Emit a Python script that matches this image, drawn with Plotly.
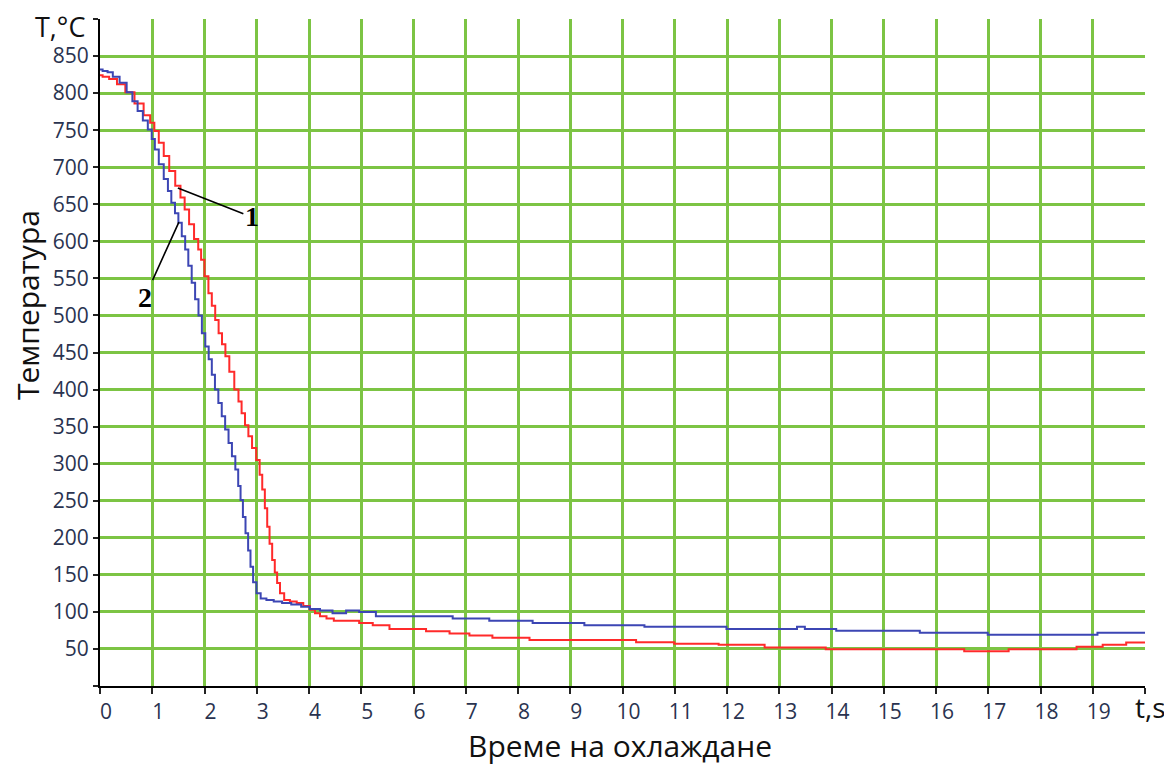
import plotly.graph_objects as go

# Curve 1 (red)
t_red = [0.00, 0.10, 0.25, 0.40, 0.57, 0.75, 0.92, 1.00, 1.08, 1.17, 1.27, 1.38, 1.50, 1.58, 1.66,
         1.75, 1.85, 1.91, 1.96, 2.04, 2.11, 2.17, 2.24, 2.30, 2.37, 2.43, 2.52, 2.62, 2.68, 2.74,
         2.81, 2.87, 2.95, 3.03, 3.08, 3.13, 3.18, 3.22, 3.27, 3.32, 3.37, 3.41, 3.48, 3.57, 3.70,
         3.83, 3.95, 4.08, 4.15, 4.27, 4.40, 4.55,
         4.95, 4.97, 5.21, 5.23, 5.53, 5.55, 6.23, 6.25, 6.68, 6.70, 7.06, 7.08, 7.50, 7.52,
         8.21, 8.23, 10.25, 10.27, 10.98, 11.00, 11.83, 11.85, 12.71, 12.73, 13.88, 13.90,
         16.53, 16.55, 17.38, 17.40, 18.68, 18.70, 19.18, 19.20, 19.63, 19.65, 20.00]
T_red = [824, 822, 819, 812, 801, 786, 770, 760, 749, 733, 715, 695, 675, 659, 643,
         623, 603, 589, 575, 553, 530, 513, 494, 476, 461, 445, 424, 400, 384, 368,
         352, 337, 321, 305, 285, 265, 240, 215, 192, 170, 153, 139, 125, 116, 114,
         112, 108, 103, 98, 94, 91, 88,
         88, 85, 85, 82, 82, 77, 77, 74, 74, 71, 71, 68, 68, 65,
         65, 62, 62, 59, 59, 57, 57, 55.5, 55.5, 52, 52, 49.5,
         49.5, 47, 47, 49.5, 49.5, 53, 53, 55.5, 55.5, 58.6, 58.6]

# Curve 2 (blue)
t_blue = [0.00, 0.10, 0.19, 0.30, 0.45, 0.57, 0.67, 0.77, 0.87, 0.96, 1.02, 1.08, 1.17, 1.27, 1.33,
          1.40, 1.47, 1.53, 1.60, 1.66, 1.72, 1.79, 1.85, 1.92, 1.98, 2.05, 2.11, 2.17, 2.23, 2.30,
          2.36, 2.43, 2.49, 2.56, 2.62, 2.67, 2.71, 2.76, 2.81, 2.86, 2.90, 2.96, 3.03, 3.12, 3.25,
          3.40, 3.57, 3.75, 3.95, 4.08, 4.34,
          4.44, 4.46, 4.70, 4.72, 4.95, 4.97, 5.27, 5.29, 6.74, 6.76, 7.44, 7.46, 8.27, 8.29,
          9.26, 9.28, 10.41, 10.43, 11.98, 12.00, 13.33, 13.35, 13.48, 13.50, 14.08, 14.10,
          15.68, 15.70, 16.98, 17.00, 19.08, 19.10, 20.00]
T_blue = [832, 830, 828, 822, 814, 801, 789, 776, 763, 751, 738, 724, 704, 684, 668,
          652, 638, 625, 607, 589, 567, 544, 522, 500, 476, 458, 441, 420, 400, 382,
          364, 346, 328, 310, 292, 270, 251, 228, 206, 183, 161, 140, 125, 118, 116,
          114, 112, 110, 107, 104, 102,
          102, 98, 98, 102, 102, 100, 100, 94, 94, 91, 91, 88, 88, 85,
          85, 82, 82, 80, 80, 77, 77, 80, 80, 77, 77, 74.5,
          74.5, 72, 72, 69, 69, 72, 72]

x_ticks = list(range(0, 20))
y_ticks = list(range(0, 901, 50))
y_ticktext = ["" if (v == 0 or v == 900) else str(v) for v in y_ticks]

GREEN = "#7cc444"
FONT = "Open Sans, Noto Sans, sans-serif"
TICKFONT = dict(family=FONT, size=21, color="#2a3350")

fig = go.Figure()
fig.add_trace(go.Scatter(x=t_red, y=T_red, mode="lines", line=dict(color="#ff2a2a", width=2, shape="hvh"),
                         showlegend=False, hoverinfo="skip"))
fig.add_trace(go.Scatter(x=t_blue, y=T_blue, mode="lines", line=dict(color="#3c46b4", width=2, shape="hvh"),
                         showlegend=False, hoverinfo="skip"))

fig.update_layout(
    width=1164, height=757,
    margin=dict(l=92, r=27, t=11, b=79),
    paper_bgcolor="white", plot_bgcolor="white",
    xaxis=dict(range=[0, 20], tickvals=x_ticks + [20], ticktext=[str(v) for v in x_ticks] + [""],
               showgrid=True, gridcolor=GREEN, gridwidth=3,
               showline=True, linecolor="black", linewidth=2,
               ticks="outside", ticklen=6, tickwidth=2, tickcolor="#222",
               tickfont=TICKFONT, ticklabelshift=6, zeroline=False),
    yaxis=dict(range=[0, 900], tickvals=y_ticks, ticktext=y_ticktext,
               showgrid=True, gridcolor=GREEN, gridwidth=2.5,
               showline=True, linecolor="black", linewidth=2,
               ticks="outside", ticklen=5, tickwidth=2, tickcolor="#222",
               tickfont=TICKFONT, ticklabelstandoff=0, zeroline=False),
    font=dict(family=FONT),
)

ann_font = dict(family=FONT, color="#111")
fig.add_annotation(text="T,°C", xref="paper", yref="paper", x=-0.038, y=0.989,
                   showarrow=False, font=dict(size=27, **ann_font), xanchor="center", yanchor="middle")
fig.add_annotation(text="Температура", xref="paper", yref="paper", x=-0.0699, y=0.571, textangle=-90,
                   showarrow=False, font=dict(size=30, **ann_font), xanchor="center", yanchor="middle")
fig.add_annotation(text="Време на охлаждане", xref="paper", yref="paper", x=0.4976, y=-0.0885,
                   showarrow=False, font=dict(size=30, **ann_font), xanchor="center", yanchor="middle")
fig.add_annotation(text="t,s", xref="paper", yref="paper", x=1.0048, y=-0.0315,
                   showarrow=False, font=dict(size=28, **ann_font), xanchor="center", yanchor="middle")

label_font = dict(family="Liberation Serif, Times New Roman, serif", size=28, color="black")
fig.add_annotation(text="<b>1</b>", x=1.49, y=672, ax=74, ay=29, showarrow=True, arrowhead=0,
                   arrowwidth=1.6, arrowcolor="black", font=label_font)
fig.add_annotation(text="<b>2</b>", x=1.51, y=626, ax=-34, ay=75, showarrow=True, arrowhead=0,
                   arrowwidth=1.6, arrowcolor="black", font=label_font)

fig.write_html("out.html")
